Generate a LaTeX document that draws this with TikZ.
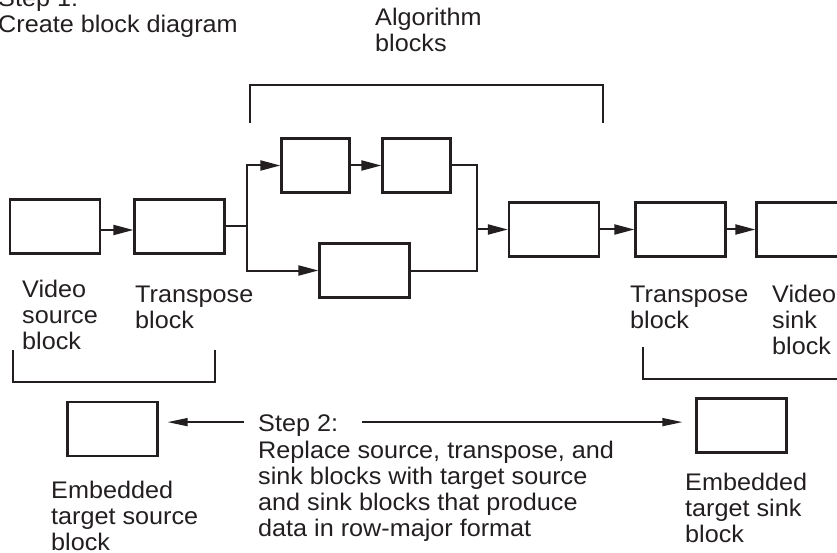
\documentclass[tikz,border=0pt]{standalone}
\usepackage{fontspec}
\setmainfont{Liberation Sans}[FakeStretch=1.05]
\usetikzlibrary{arrows.meta}
\definecolor{ink}{RGB}{35,31,32}
\begin{document}
\begin{tikzpicture}[x=1pt,y=-1pt,
  blk/.style={draw=ink, line width=2.2pt, inner sep=0pt, minimum width=90pt, minimum height=54pt},
  sblk/.style={blk, minimum width=68pt},
  wire/.style={draw=ink, line width=2pt},
  arr/.style={wire, -{Triangle[length=20pt,width=10pt]}},
  arrtwo/.style={draw=ink, line width=1.5pt, -{Triangle[length=20pt,width=8pt]}},
  brk/.style={draw=ink, line width=2.2pt},
  lbl/.style={anchor=base west, inner sep=0pt, align=left, text=ink, font=\fontsize{24}{26}\selectfont}]
\useasboundingbox (0,0) rectangle (837,553);
\clip (0,0) rectangle (837,553);

% titles (anchor = baseline of the last line)
\node[lbl] (step1) at (-2,33) {Step 1:\\Create block diagram};
\node[lbl] (algo) at (375,52) {Algorithm\\blocks};

% top row blocks
\node[blk]  (b1) at (55,226.5) {};
\node[blk]  (b2) at (179.5,226.5) {};
\node[sblk] (b3) at (315.5,165.5) {};
\node[sblk] (b4) at (416.5,165.5) {};
\node[blk]  (b5) at (364.5,270.5) {};
\node[blk]  (b6) at (554,229.5) {};
\node[blk]  (b7) at (680.5,229.5) {};
\node[blk]  (b8) at (801.5,229.5) {};

\coordinate (j1) at (247,226.5);
\coordinate (j2) at (477,229.5);

\draw[arr] ([yshift=-3.5pt]b1.east) -- ([yshift=-3.5pt]b2.west);
\draw[wire] (b2) -- (j1);
\draw[arr] (j1) |- (b3);
\draw[arr] (j1) |- (b5);
\draw[arr] (b3) -- (b4);
\draw[wire] (b4) -| (j2);
\draw[wire] (b5) -| (j2);
\draw[arr] (j2) -- (b6);
\draw[arr] (b6) -- (b7);
\draw[arr] (b7) -- (b8);

% algorithm bracket
\draw[brk] (250,123) -- (250,85) -- (603,85) -- (603,123);

% labels under the blocks
\node[lbl] (lvsrc) at (22,349) {Video\\source\\block};
\node[lbl] (ltr1) at (135,328) {Transpose\\block};
\node[lbl] (ltr2) at (630,328) {Transpose\\block};
\node[lbl] (lvsink) at (772,354) {Video\\sink\\block};

% lower brackets
\draw[brk] (13,350) -- (13,382) -- (215,382) -- (215,350);
\draw[brk] (643,347) -- (643,379) -- (860,379);

% embedded target blocks
\node[blk] (esrc) at (112.5,429) {};
\node[blk] (esink) at (741.5,425.5) {};
\node[lbl] (lesrc) at (51,550) {Embedded\\target source\\block};
\node[lbl] (lesink) at (685,542) {Embedded\\target sink\\block};

% step 2
\node[lbl] (step2) at (258,431) {Step 2:};
\node[lbl] (repl) at (258,536) {Replace source, transpose, and\\sink blocks with target source\\and sink blocks that produce\\data in row-major format};

\coordinate (s2l) at ([xshift=-14pt,yshift=3pt]step2.west);
\coordinate (s2r) at ([xshift=24pt,yshift=3pt]step2.east);
\draw[arrtwo, shorten >=9pt] (s2l) -- (s2l -| esrc.east);
\draw[arrtwo, shorten >=13pt] (s2r) -- (s2r -| esink.west);
\end{tikzpicture}
\end{document}
